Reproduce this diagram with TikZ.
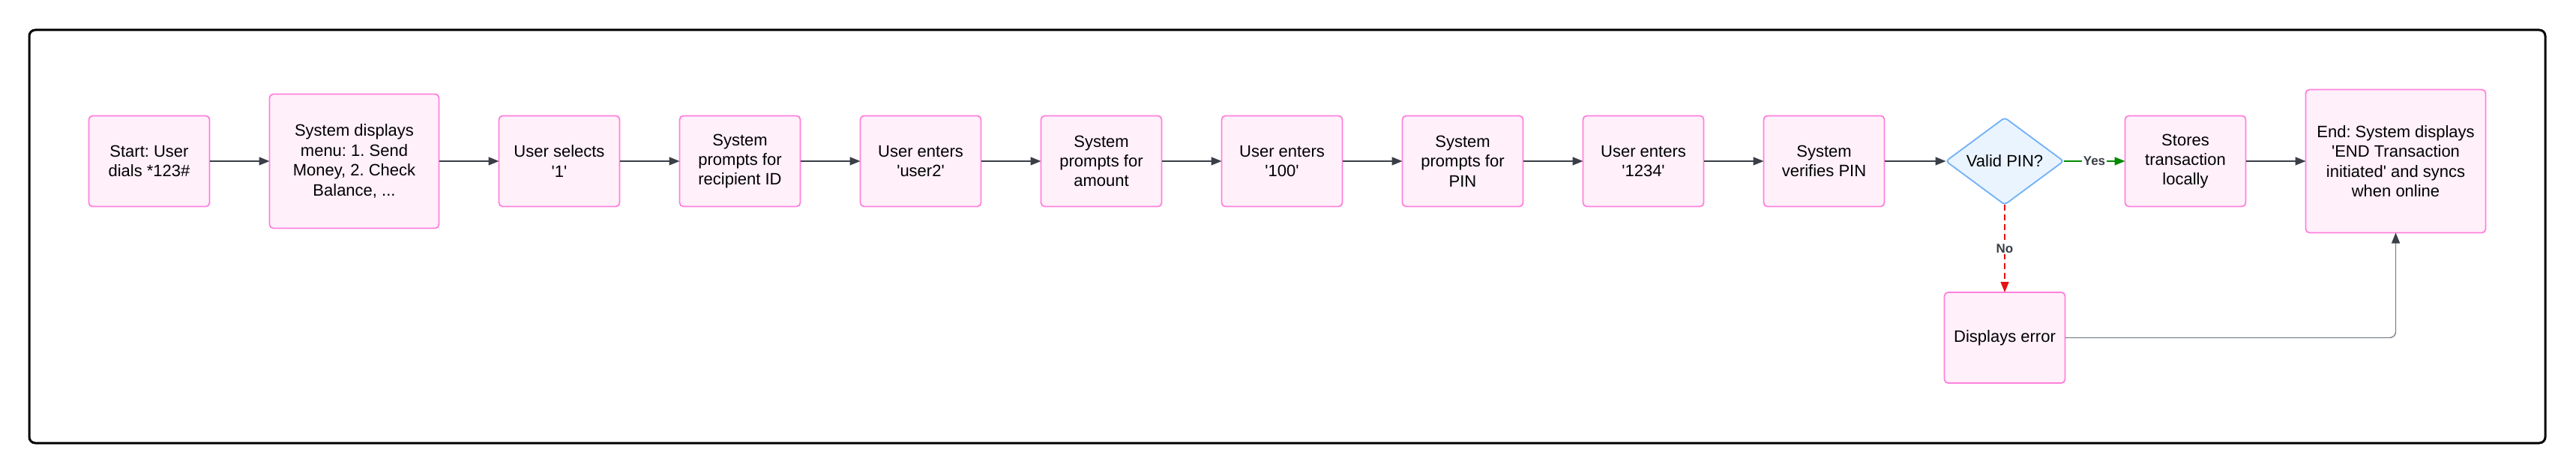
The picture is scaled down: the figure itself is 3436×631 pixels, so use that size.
\documentclass[tikz,border=0pt]{standalone}
\usepackage{fontspec}
\setmainfont{Liberation Sans}
\usetikzlibrary{shapes.geometric,arrows.meta,positioning}
\frenchspacing

\definecolor{boxpink}{HTML}{FF80DC}
\definecolor{boxfill}{HTML}{FFF0FA}
\definecolor{decblue}{HTML}{70B0F8}
\definecolor{decfill}{HTML}{EAF4FF}
\definecolor{linkgray}{HTML}{3A3F47}
\definecolor{backgray}{HTML}{80858C}
\definecolor{yesgreen}{HTML}{008A00}
\definecolor{nored}{HTML}{E81010}
\newcommand{\sq}{\textquotesingle}

\begin{document}
\begin{tikzpicture}[x=0.5pt,y=-0.5pt,
        stepbox/.style={draw=boxpink,fill=boxfill,line width=0.9pt,rounded corners=2.5pt,
            minimum width=80.5pt,minimum height=60.5pt,inner sep=0pt,outer sep=0pt,align=center,
            font=\fontsize{11}{13.2}\selectfont},
        decision/.style={diamond,aspect=1.35,draw=decblue,fill=decfill,line width=0.9pt,
            rounded corners=2pt,minimum width=78.5pt,minimum height=58pt,inner sep=1pt,outer sep=0pt,
            font=\fontsize{11}{13.2}\selectfont},
        flow/.style={line width=0.7pt,linkgray,-{Triangle[length=7pt,width=5.5pt]}},
        edgelabel/.style={fill=white,inner sep=1pt,text=linkgray,font=\fontsize{8.5}{10}\selectfont\bfseries},
    ]
        \useasboundingbox (0,0) rectangle (3436,631);
        \draw[line width=1.5pt,rounded corners=4pt] (39,40) rectangle (3395,591);

        \node[stepbox] (start) at (199,215) {Start: User\\dials *123\#};
        \node[stepbox,minimum width=113pt,minimum height=89.5pt,right=40pt of start] (menu)
            {System displays\\menu: 1. Send\\Money, 2. Check\\Balance, ...};
        \node[stepbox,right=40pt of menu] (select) {User selects\\\sq1\sq};
        \node[stepbox,right=40pt of select] (askid) {System\\prompts for\\recipient ID};
        \node[stepbox,right=40pt of askid] (enterid) {User enters\\\sq user2\sq};
        \node[stepbox,right=40pt of enterid] (askamt) {System\\prompts for\\amount};
        \node[stepbox,right=40pt of askamt] (enteramt) {User enters\\\sq100\sq};
        \node[stepbox,right=40pt of enteramt] (askpin) {System\\prompts for\\PIN};
        \node[stepbox,right=40pt of askpin] (enterpin) {User enters\\\sq1234\sq};
        \node[stepbox,right=40pt of enterpin] (verify) {System\\verifies PIN};
        \node[decision,right=41pt of verify] (valid) {Valid PIN?};
        \node[stepbox,right=41pt of valid] (store) {Stores\\transaction\\locally};
        \node[stepbox,minimum width=120pt,minimum height=95.5pt,right=40pt of store] (end)
            {End: System displays\\\sq END Transaction\\initiated\sq{} and syncs\\when online};
        \node[stepbox,below=58.5pt of valid] (error) {Displays error};

        \foreach \a/\b in {start/menu,menu/select,select/askid,askid/enterid,enterid/askamt,
                askamt/enteramt,enteramt/askpin,askpin/enterpin,enterpin/verify,verify/valid,store/end}
        \draw[flow] (\a.east) -- (\b.west);

        \draw[line width=0.7pt,yesgreen,-{Triangle[length=7pt,width=5.5pt]}] (valid.east) -- (store.west)
            node[edgelabel,midway] {Yes};
        \draw[line width=0.7pt,nored,dash pattern=on 4pt off 2.5pt,-{Triangle[length=7pt,width=5.5pt]}]
            (valid.south) -- (error.north) node[edgelabel,midway] {No};
        % back to the end step
        \draw[line width=0.7pt,backgray,rounded corners=4pt,
            -{Triangle[length=7pt,width=5.5pt,color=linkgray]}] (error.east) -| (end.south);

    \end{tikzpicture}
\end{document}
